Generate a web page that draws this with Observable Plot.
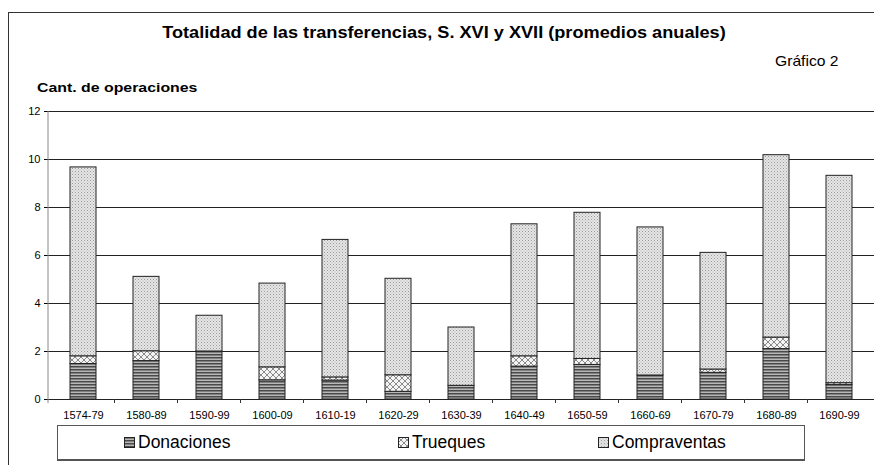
<!DOCTYPE html>
<html><head><meta charset="utf-8">
<script src="https://cdn.jsdelivr.net/npm/d3@7"></script>
<script src="https://cdn.jsdelivr.net/npm/@observablehq/plot@0.6"></script>
<style>
body{margin:0;background:#fff;font-family:"Liberation Sans",Arial,sans-serif;}
#wrap{position:relative;width:874px;height:465px;overflow:hidden;}
#frame{position:absolute;left:8px;top:12px;width:880px;height:470px;border:1.5px solid #333;box-sizing:border-box;}
#title{position:absolute;left:0;width:888px;top:23px;text-align:center;font-weight:bold;font-size:16.5px;transform:scaleX(1.1);transform-origin:444px 0;}
#gr{position:absolute;left:775px;top:53px;font-size:14.5px;transform:scaleX(1.08);transform-origin:0 0;}
#ylab{position:absolute;left:37px;top:80px;font-weight:bold;font-size:13px;transform:scaleX(1.22);transform-origin:0 0;}
#chart{position:absolute;left:0;top:0;}
#legend{position:absolute;left:57px;top:425px;width:748px;height:36px;border:1px solid #555;border-bottom:2px solid #555;box-sizing:border-box;background:#fff;font-size:17.5px;}
#legend .it{position:absolute;top:6px;display:flex;align-items:center;}
#legend svg{margin-right:2px;}
</style></head>
<body><div id="wrap">
<div id="frame"></div>
<svg width="0" height="0" style="position:absolute">
<defs>
<pattern id="pDon" width="4" height="3" patternUnits="userSpaceOnUse">
<rect width="4" height="3" fill="#b8b8b8"/><rect y="0" width="4" height="1" fill="#4a4a4a"/><rect y="1" width="4" height="1" fill="#808080"/>
</pattern>
<pattern id="pTru" width="6" height="6" patternUnits="userSpaceOnUse">
<rect width="6" height="6" fill="#f4f4f4"/><path d="M0,0L6,6M6,0L0,6" stroke="#8a8a8a" stroke-width="1"/>
</pattern>
<pattern id="pComp" width="3" height="3" patternUnits="userSpaceOnUse">
<rect width="3" height="3" fill="#e6e6e6"/><rect x="0" y="0" width="1" height="1" fill="#9a9a9a"/><rect x="1.5" y="1.5" width="1" height="1" fill="#b0b0b0"/>
</pattern>
</defs></svg>
<div id="chart"></div>
<div id="title">Totalidad de las transferencias, S. XVI y XVII (promedios anuales)</div>
<div id="gr">Gráfico 2</div>
<div id="ylab">Cant. de operaciones</div>
<div id="legend"></div>
</div>
<script>
const periods = ["1574-79","1580-89","1590-99","1600-09","1610-19","1620-29","1630-39","1640-49","1650-59","1660-69","1670-79","1680-89","1690-99"];
const series = ["Donaciones","Trueques","Compraventas"];
const donaciones   = [1.48,1.6,2.0,0.8,0.79,0.32,0.57,1.37,1.44,1.0,1.11,2.1,0.6];
const trueques     = [0.32,0.41,0.0,0.54,0.13,0.69,0.0,0.43,0.25,0.0,0.14,0.48,0.08];
const compraventas = [7.87,3.1,1.49,3.49,5.73,4.02,2.43,5.5,6.09,6.17,4.86,7.6,8.64];
const yTicks = [0,2,4,6,8,10,12];
const fills = ["url(#pDon)","url(#pTru)","url(#pComp)"];

const data = [];
periods.forEach((p,i)=>{
  data.push({period:p, serie:series[0], value:donaciones[i]});
  data.push({period:p, serie:series[1], value:trueques[i]});
  data.push({period:p, serie:series[2], value:compraventas[i]});
});

const chart = Plot.plot({
  width: 874, height: 465,
  marginLeft: 48, marginRight: 0, marginTop: 111, marginBottom: 66,
  style: {fontFamily: "'Liberation Sans', Arial, sans-serif", fontSize: "11px", background: "transparent", overflow: "visible"},
  x: {domain: periods, paddingInner: 0.58, paddingOuter: 0.29, label: null, tickSize: 0, tickPadding: 12},
  y: {domain: [0,12], ticks: yTicks, label: null, tickSize: 4, tickPadding: 4},
  color: {type: "ordinal", domain: series, range: fills},
  marks: [
    Plot.gridY(yTicks.filter(t=>t>0), {stroke: "#222", strokeOpacity: 1, strokeWidth: 1}),
    Plot.barY(data, Plot.stackY({x: "period", y: "value", fill: "serie", stroke: "#222", strokeWidth: 1, order: null})),
    Plot.ruleY([0], {stroke: "#222"})
  ]
});
document.getElementById("chart").appendChild(chart);

const xs = chart.scale("x"), ys = chart.scale("y");
const svg = d3.select(chart);
const y0 = ys.apply(0);
const gap = (xs.step - xs.bandwidth) / 2;
svg.append("g").selectAll("line").data(periods.slice(1)).join("line")
  .attr("x1", p => xs.apply(p) - gap)
  .attr("x2", p => xs.apply(p) - gap)
  .attr("y1", y0).attr("y2", y0 + 4).attr("stroke", "#333");
svg.append("line").attr("x1", 48).attr("x2", 48).attr("y1", ys.apply(12)).attr("y2", y0 + 4).attr("stroke", "#888");

const leg = document.getElementById("legend");
const lx = [66, 340, 540];
series.forEach((s,i)=>{
  const d = document.createElement("div");
  d.className = "it"; d.style.left = lx[i]+"px";
  d.innerHTML = `<svg width="12" height="12"><rect x="0.5" y="0.5" width="10" height="10" fill="${fills[i]}" stroke="#222"/></svg><span>${s}</span>`;
  leg.appendChild(d);
});
</script>
</body></html>
